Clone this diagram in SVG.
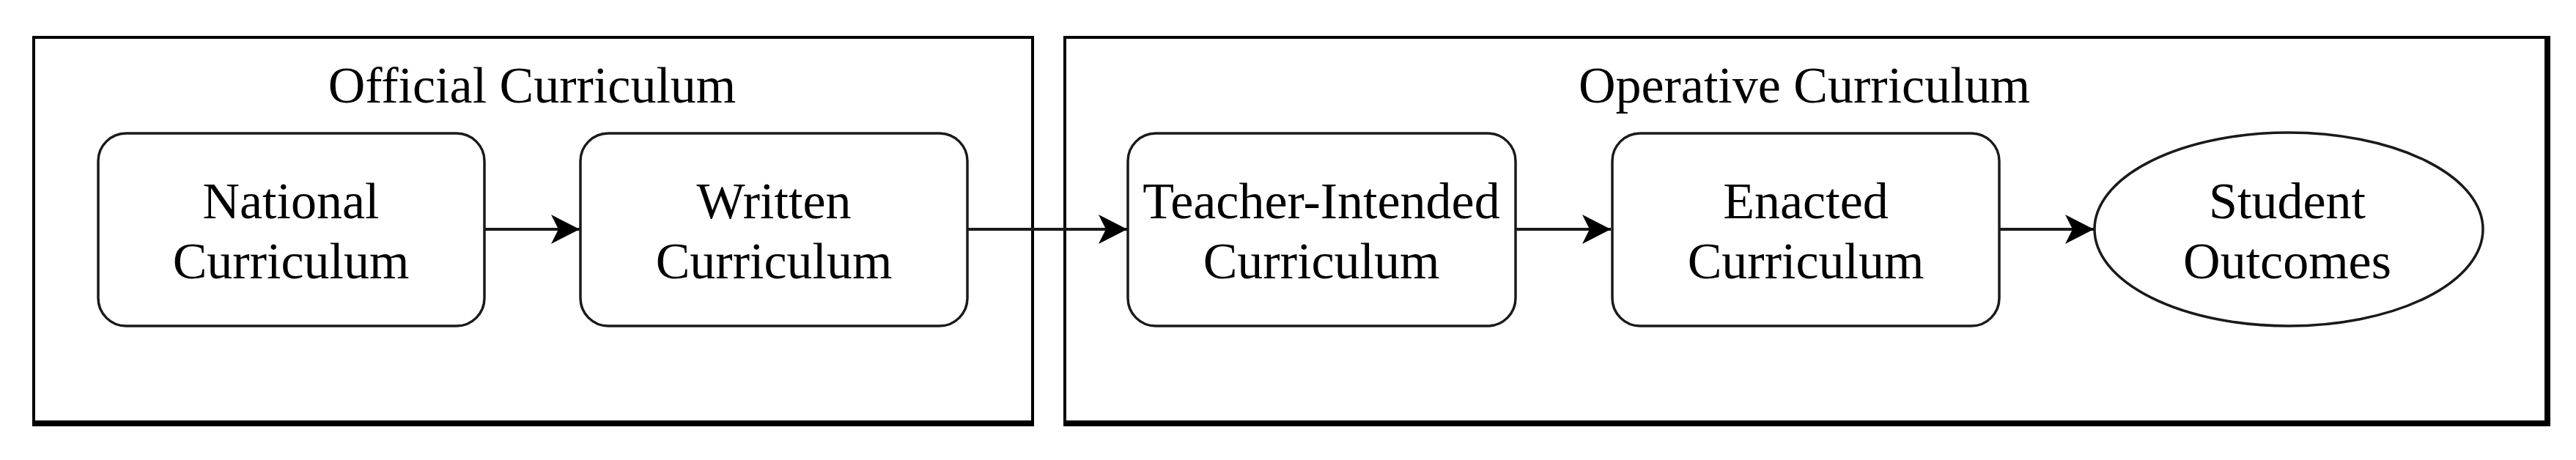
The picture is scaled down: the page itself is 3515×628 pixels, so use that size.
<svg xmlns="http://www.w3.org/2000/svg" width="3515" height="628" viewBox="0 0 3515 628">
<style>
.frame{fill:#fff;stroke:#000;stroke-width:4}
.node{fill:#fff;stroke:#1a1a1a;stroke-width:3.5}
.lbl{font-family:"Liberation Serif","Times New Roman",serif;font-size:70px;fill:#000;text-anchor:middle}
.edge{stroke:#1a1a1a;stroke-width:4;fill:none}
</style>
<defs>
<marker id="arr" markerUnits="userSpaceOnUse" markerWidth="40" markerHeight="42" refX="39" refY="21" orient="auto" viewBox="0 0 40 42">
<path d="M39,21 L0,1 L10,21 L0,41 Z" fill="#000"/>
</marker>
</defs>
<rect width="3515" height="628" fill="#fff"/>
<g id="official">
<rect class="frame" x="46" y="51" width="1363" height="527"/>
<line x1="44" y1="578" x2="1411" y2="578" stroke="#000" stroke-width="8"/>
<text class="lbl" x="726" y="140">Official Curriculum</text>
</g>
<g id="operative">
<rect class="frame" x="1453" y="51" width="2023" height="527"/>
<line x1="1451" y1="578" x2="3480" y2="578" stroke="#000" stroke-width="8"/>
<line x1="3476" y1="49" x2="3476" y2="582" stroke="#000" stroke-width="8"/>
<text class="lbl" x="2462" y="140">Operative Curriculum</text>
</g>
<g id="edges">
<line class="edge" x1="661" y1="313" x2="791" y2="313" marker-end="url(#arr)"/>
<line class="edge" x1="1320" y1="313" x2="1538" y2="313" marker-end="url(#arr)"/>
<line class="edge" x1="2068" y1="313" x2="2198" y2="313" marker-end="url(#arr)"/>
<line class="edge" x1="2728" y1="313" x2="2857" y2="313" marker-end="url(#arr)"/>
</g>
<g id="national">
<rect class="node" x="134" y="182" width="527" height="263" rx="38" ry="38"/>
<text class="lbl" x="397" y="298">National</text>
<text class="lbl" x="397" y="380">Curriculum</text>
</g>
<g id="written">
<rect class="node" x="792" y="182" width="528" height="263" rx="38" ry="38"/>
<text class="lbl" x="1056" y="298">Written</text>
<text class="lbl" x="1056" y="380">Curriculum</text>
</g>
<g id="teacher">
<rect class="node" x="1539" y="182" width="529" height="263" rx="38" ry="38"/>
<text class="lbl" x="1803" y="298">Teacher-Intended</text>
<text class="lbl" x="1803" y="380">Curriculum</text>
</g>
<g id="enacted">
<rect class="node" x="2200" y="182" width="528" height="263" rx="38" ry="38"/>
<text class="lbl" x="2464" y="298">Enacted</text>
<text class="lbl" x="2464" y="380">Curriculum</text>
</g>
<g id="student">
<ellipse class="node" cx="3123" cy="313" rx="265" ry="132"/>
<text class="lbl" x="3121" y="298">Student</text>
<text class="lbl" x="3121" y="380">Outcomes</text>
</g>
</svg>
